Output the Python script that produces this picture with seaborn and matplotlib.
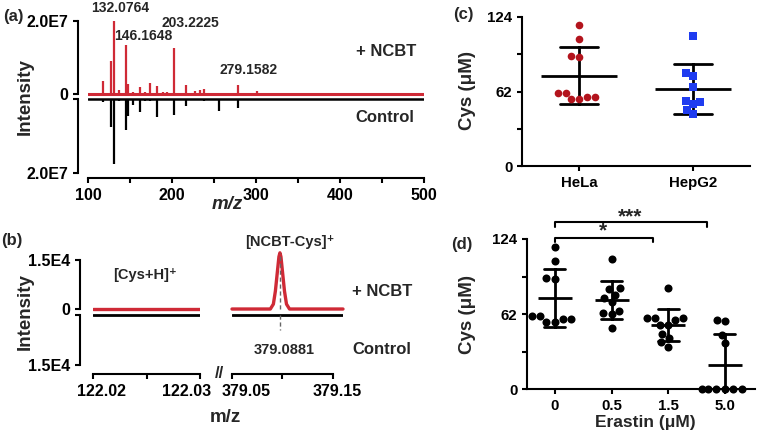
import numpy as np
import pandas as pd
import matplotlib
matplotlib.use('Agg')
import matplotlib.pyplot as plt
import matplotlib.transforms as mtrans
import seaborn as sns

# (a) 전체 스펙트럼: m/z, intensity (단위 1E7)
ncbt_mz = [105, 110, 117.5, 127.4, 131.3, 137, 145.2, 148, 153.6, 162, 168, 173.8, 182.5,
           189.7, 194, 202.8, 216.7, 227, 233, 238, 255, 265, 279, 293, 300.8]
ncbt_int = [0.03, 0.04, 0.35, 0.9, 2.0, 0.11, 1.34, 0.27, 0.06, 0.2, 0.05, 0.3, 0.22,
            0.06, 0.06, 1.25, 0.26, 0.08, 0.11, 0.14, 0.03, 0.03, 0.26, 0.03, 0.08]
ctrl_mz = [110, 117.5, 127.4, 131.3, 137, 145.2, 148, 153.5, 162, 168, 174, 182.5, 190,
           202.8, 216.7, 227, 238, 255.7, 279, 300, 320, 350, 380, 420, 460]
ctrl_int = [0.04, 0.09, 0.75, 1.76, 0.05, 0.84, 0.45, 0.16, 0.36, 0.05, 0.06, 0.5, 0.04,
            0.43, 0.19, 0.03, 0.05, 0.32, 0.25, 0.03, 0.02, 0.02, 0.02, 0.02, 0.02]
peak_labels = ['132.0764', '146.1648', '203.2225', '279.1582']

# (b) 확대 스펙트럼 (단위 1E4)
cys_mz = [122.02, 122.03]
cys_ncbt = [0, 0]
cys_ctrl = [0, 0]
adduct_mz = [379.050, 379.088, 379.091, 379.093, 379.095, 379.0965, 379.0975, 379.0985,
             379.100, 379.102, 379.104, 379.107, 379.160]
adduct_ncbt = [0, 0, 0.15, 0.55, 1.15, 1.6, 1.72, 1.6, 1.15, 0.55, 0.15, 0, 0]
adduct_ctrl_mz = [379.05, 379.16]
adduct_ctrl = [0, 0]
adduct_peak = 379.0975
adduct_label = '379.0881'

# (c) 세포별 Cys
cells = ['HeLa', 'HepG2']
hela = [117.3, 105.7, 91.5, 91.0, 60.5, 57.7, 55.5, 55.7, 57.7, 60.5]
hepg2 = [108.4, 77.6, 75.1, 65.5, 53.0, 54.1, 51.3, 47.0, 43.0]

# (d) Erastin 농도별 Cys
erastin_levels = ['0', '0.5', '1.5', '5.0']
cys_e0 = hela
cys_e05 = [107.3, 83.5, 82.5, 78, 75, 72, 65, 63, 62, 50.3]
cys_e15 = [83.3, 58.6, 58.6, 58.6, 57, 53, 53, 46, 42, 39, 35]
cys_e50 = [56.6, 57.2, 44.8, 38.5, 0, 0, 0, 0, 0, 0]

RED = '#cf2a36'
HELA_RED = '#b3141d'
BLUE = '#1f3cf0'

sns.set_style('ticks')
plt.rcParams['font.family'] = ['Liberation Sans', 'DejaVu Sans']
plt.rcParams['font.weight'] = 'bold'
plt.rcParams['axes.labelweight'] = 'bold'
plt.rcParams['axes.linewidth'] = 1.5
plt.rcParams['xtick.major.width'] = 1.5
plt.rcParams['ytick.major.width'] = 1.5
plt.rcParams['xtick.major.size'] = 3.5
plt.rcParams['ytick.major.size'] = 3.5
plt.rcParams['xtick.labelsize'] = 11.5
plt.rcParams['ytick.labelsize'] = 11.5
plt.rcParams['xtick.color'] = 'black'
plt.rcParams['ytick.color'] = 'black'
plt.rcParams['axes.edgecolor'] = 'black'

W, H = 757, 437
fig = plt.figure(figsize=(W / 100, H / 100), dpi=100)


def px_axes(x0, y0, x1, y1):
    ax = fig.add_axes([x0 / W, 1 - y1 / H, (x1 - x0) / W, (y1 - y0) / H])
    ax.patch.set_alpha(0)
    return ax


def ftext(x, y, s, **kw):
    kw.setdefault('ha', 'center')
    kw.setdefault('va', 'center')
    kw.setdefault('fontweight', 'bold')
    fig.text(x / W, 1 - y / H, s, **kw)


def only_left(ax, lo, hi, out):
    for s in ['top', 'right', 'bottom']:
        ax.spines[s].set_visible(False)
    ax.spines['left'].set_bounds(lo, hi)
    ax.spines['left'].set_position(('outward', out))
    ax.tick_params(axis='x', bottom=False, labelbottom=False)


def shift_labels(ax, dx_list):
    for lab, dx in zip(ax.get_xticklabels(), dx_list):
        lab.set_transform(lab.get_transform() + mtrans.ScaledTranslation(dx / 100, 0, fig.dpi_scale_trans))


# ---------------- (a) ----------------
ax_up = px_axes(88, 21, 424, 97)
ax_dn = px_axes(88, 96, 424, 173)

ax_up.vlines(ncbt_mz, 0, ncbt_int, color=RED, lw=1.6, clip_on=False)
ax_up.axhline(0, color=RED, lw=2.2)
ax_up.set_xlim(100, 500)
ax_up.set_ylim(-0.082, 2.0)
only_left(ax_up, 0, 2.0, 7.2)
ax_up.set_yticks([0, 2.0], ['0', '2.0E7'])

ax_dn.vlines(ctrl_mz, 0, ctrl_int, color='black', lw=1.6)
ax_dn.axhline(0, color='black', lw=1.8)
ax_dn.set_xlim(100, 500)
ax_dn.set_ylim(2.0, -0.081)
sns.despine(ax=ax_dn)
ax_dn.spines['left'].set_bounds(0, 2.0)
ax_dn.spines['left'].set_position(('outward', 7.2))
ax_dn.spines['bottom'].set_position(('outward', 3.6))
ax_dn.set_yticks([0, 2.0], ['', '2.0E7'])
ax_dn.set_xticks(range(100, 501, 50), ['100', '', '200', '', '300', '', '400', '', '500'])

for lab, x, y in zip(peak_labels, [138.1, 165.5, 221.4, 290.5], [2.36, 1.59, 1.95, 0.66]):
    ax_up.text(x, y, lab, ha='center', va='center', fontsize=10, fontweight='bold', clip_on=False)

ftext(13, 16, '(a)', fontsize=12)
ftext(25, 97, 'Intensity', fontsize=13.5, rotation=90)
ftext(227, 205, 'm/z', fontsize=13.5, style='italic')
ftext(386, 52, '+ NCBT', fontsize=12)
ftext(385, 117, 'Control', fontsize=12)

# ---------------- (b) ----------------
ax_bl_up = px_axes(93, 252, 200, 313)
ax_bl_dn = px_axes(93, 312, 200, 365)
ax_br_up = px_axes(232, 252, 343, 313)
ax_br_dn = px_axes(232, 312, 343, 365)

sns.lineplot(x=cys_mz, y=cys_ncbt, color=RED, lw=2.4, ax=ax_bl_up)
sns.lineplot(x=cys_mz, y=cys_ctrl, color='black', lw=2.0, ax=ax_bl_dn)
sns.lineplot(x=adduct_mz, y=adduct_ncbt, color=RED, lw=2.4, ax=ax_br_up, clip_on=False)
sns.lineplot(x=adduct_ctrl_mz, y=adduct_ctrl, color='black', lw=2.0, ax=ax_br_dn)
ax_br_up.vlines(adduct_peak, 0, max(adduct_ncbt), color='#666666', lw=1.0, ls=(0, (3, 2)))
ax_br_dn.vlines(adduct_peak, 0, 0.45, color='#666666', lw=1.0, ls=(0, (3, 2)))

for ax in [ax_bl_up, ax_bl_dn]:
    ax.set_xlim(122.02, 122.03)
for ax in [ax_br_up, ax_br_dn]:
    ax.set_xlim(379.05, 379.16)
for ax in [ax_bl_up, ax_br_up]:
    ax.set_ylim(-0.122, 1.745)
for ax in [ax_bl_dn, ax_br_dn]:
    ax.set_ylim(1.5, -0.09)

only_left(ax_bl_up, 0, 1.5, 9.4)
ax_bl_up.set_yticks([0, 1.5], ['0', '1.5E4'])
only_left(ax_br_up, 0, 1.5, 9.4)
ax_br_up.spines['left'].set_visible(False)
ax_br_up.tick_params(axis='y', left=False, labelleft=False)

for ax in [ax_bl_dn, ax_br_dn]:
    sns.despine(ax=ax)
    ax.spines['bottom'].set_position(('outward', 6.5))
ax_bl_dn.spines['left'].set_bounds(0, 1.5)
ax_bl_dn.spines['left'].set_position(('outward', 9.4))
ax_bl_dn.set_yticks([0, 1.5], ['', '1.5E4'])
ax_br_dn.spines['left'].set_visible(False)
ax_br_dn.tick_params(axis='y', left=False, labelleft=False)
ax_bl_dn.set_xticks([122.02, 122.025, 122.03], ['122.02', '', '122.03'])
ax_br_dn.set_xticks([379.05, 379.10, 379.15], ['379.05', '', '379.15'])
ax_br_dn.spines['bottom'].set_bounds(379.05, 379.15)

ftext(12, 241, '(b)', fontsize=12)
ftext(25, 312, 'Intensity', fontsize=13.5, rotation=90)
ftext(225, 417, 'm/z', fontsize=13.5)
ftext(219, 373, '//', fontsize=12)
ftext(145, 275, '[Cys+H]⁺', fontsize=10.5)
ftext(290, 242, '[NCBT-Cys]⁺', fontsize=10.5)
ftext(284, 350, adduct_label, fontsize=10.5)
ftext(382, 291, '+ NCBT', fontsize=12)
ftext(382, 349, 'Control', fontsize=12)

# ---------------- (c) ----------------
ax_c = px_axes(522, 17, 750, 166)
df_c = pd.DataFrame({'cell': ['HeLa'] * len(hela) + ['HepG2'] * len(hepg2),
                     'cys': hela + hepg2})
sns.swarmplot(data=df_c[df_c['cell'] == 'HeLa'], x='cell', y='cys', order=cells,
              color=HELA_RED, marker='o', size=5.5, ax=ax_c)
sns.swarmplot(data=df_c[df_c['cell'] == 'HepG2'], x='cell', y='cys', order=cells,
              color=BLUE, marker='s', size=5.2, ax=ax_c)
sns.pointplot(data=df_c, x='cell', y='cys', order=cells, errorbar='sd', capsize=0.33,
              color='black', linestyle='none', marker='_', markersize=55,
              markeredgewidth=2, err_kws={'linewidth': 2}, ax=ax_c)
ax_c.set_xlim(-0.5, 1.5)
ax_c.set_ylim(0, 124)
ax_c.set_yticks([0, 31, 62, 93, 124], ['0', '', '62', '', '124'])
ax_c.set_xlabel('')
ax_c.set_ylabel('')
sns.despine(ax=ax_c)
ax_c.tick_params(labelsize=10.8)
ftext(463, 15, '(c)', fontsize=12)
ftext(467, 91, 'Cys (μM)', fontsize=13.5, rotation=90)

# ---------------- (d) ----------------
ax_d = px_axes(527, 239, 755, 389.3)
df_d = pd.DataFrame({
    'erastin': ['0'] * len(cys_e0) + ['0.5'] * len(cys_e05) + ['1.5'] * len(cys_e15) + ['5.0'] * len(cys_e50),
    'cys': cys_e0 + cys_e05 + cys_e15 + cys_e50,
})
sns.swarmplot(data=df_d, x='erastin', y='cys', order=erastin_levels, color='black',
              size=5.8, ax=ax_d)
for coll in ax_d.collections:
    coll.set_clip_on(False)
sns.pointplot(data=df_d, x='erastin', y='cys', order=erastin_levels, errorbar='sd',
              capsize=0.37, color='black', linestyle='none', marker='_', markersize=25,
              markeredgewidth=2, err_kws={'linewidth': 2}, ax=ax_d)
ax_d.set_xlim(-0.49, 3.53)
ax_d.set_ylim(0, 124)
ax_d.set_yticks([0, 31, 62, 93, 124], ['0', '', '62', '', '124'])
ax_d.set_xlabel('')
ax_d.set_ylabel('')
sns.despine(ax=ax_d)
ax_d.tick_params(labelsize=10.8)

# 유의성 표시
ax_d.plot([0, 0, 2.675, 2.675], [133.9, 138.3, 138.3, 133.9], color='black', lw=1.5, clip_on=False)
ax_d.plot([0, 0, 1.73, 1.73], [121.5, 125.1, 125.1, 121.5], color='black', lw=1.5, clip_on=False)
ax_d.text(1.32, 142.5, '***', ha='center', va='center', fontsize=15, fontweight='bold')
ax_d.text(0.85, 130.5, '*', ha='center', va='center', fontsize=15, fontweight='bold')

ftext(462, 244, '(d)', fontsize=12)
ftext(468, 314, 'Cys (μM)', fontsize=13.5, rotation=90)
ftext(645, 422, 'Erastin (μM)', fontsize=12.5)

shift_labels(ax_bl_dn, [9, 0, -13])
shift_labels(ax_br_dn, [14, 0, 4])

fig.savefig('out.png', dpi=100)
